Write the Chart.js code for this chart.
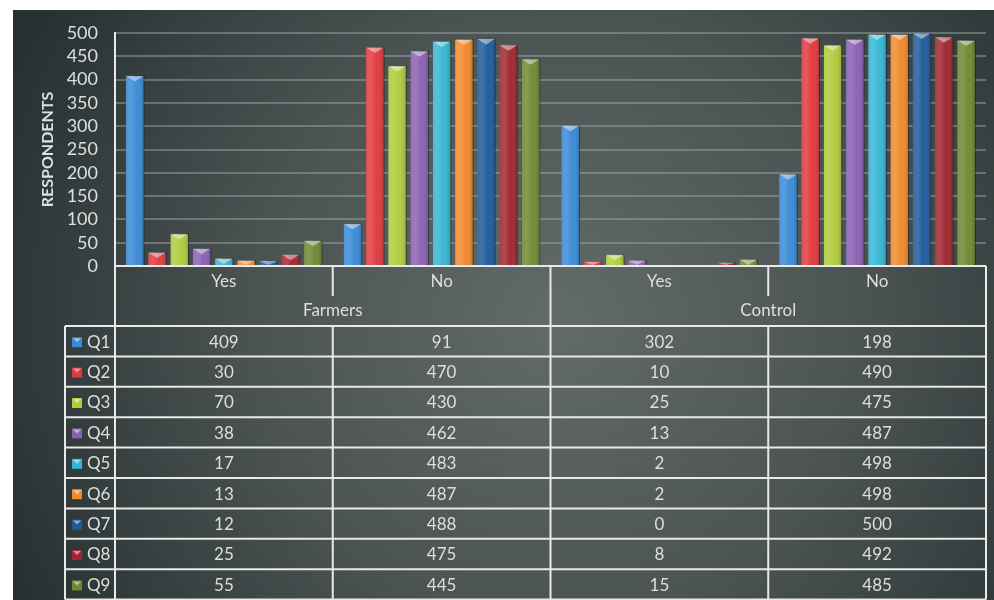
<!DOCTYPE html>
<html>
<head>
<meta charset="utf-8">
<title>Respondents by question</title>
<script src="https://cdn.jsdelivr.net/npm/chart.js@4.4.1/dist/chart.umd.min.js"></script>
<style>
  html, body { margin: 0; padding: 0; background: #fff; }
  canvas { display: block; }
</style>
</head>
<body>
<canvas id="respChart" width="994" height="600"></canvas>
<script>
// data
const categories = ["Yes", "No", "Yes", "No"];
const groups = ["Farmers", "Control"];
const questions = ["Q1", "Q2", "Q3", "Q4", "Q5", "Q6", "Q7", "Q8", "Q9"];
const farmersYes = [409, 30, 70, 38, 17, 13, 12, 25, 55];
const farmersNo = [91, 470, 430, 462, 483, 487, 488, 475, 445];
const controlYes = [302, 10, 25, 13, 2, 2, 0, 8, 15];
const controlNo = [198, 490, 475, 487, 498, 498, 500, 492, 485];
const colors = ["#3a8ad6", "#e03a3e", "#b2cb3c", "#8a60b3", "#36b6d6", "#f2892c", "#1e5b9b", "#a0272f", "#6e8934"];

const FONT = "Lato, 'Open Sans', sans-serif";
const TEXT = "#dedfdf";
const LINE = "#e8eaea";

// dark gradient panel behind everything
const backdrop = {
  id: "backdrop",
  beforeDraw(chart) {
    const ctx = chart.ctx;
    ctx.save();
    const g = ctx.createRadialGradient(560, 320, 0, 560, 320, 600);
    g.addColorStop(0, "#626a6a");
    g.addColorStop(0.5, "#4b5353");
    g.addColorStop(1, "#283131");
    ctx.fillStyle = g;
    ctx.fillRect(13, 10, 981, 590);
    ctx.restore();
  }
};

// glossy highlight + little triangle cap on every bar
const barShine = {
  id: "barShine",
  afterDatasetsDraw(chart) {
    const ctx = chart.ctx;
    ctx.save();
    chart.data.datasets.forEach((ds, di) => {
      chart.getDatasetMeta(di).data.forEach(bar => {
        const { x, y, base, width } = bar.getProps(["x", "y", "base", "width"], true);
        const h = base - y;
        if (h < 1) return;
        const l = x - width / 2, r = x + width / 2;
        const g = ctx.createLinearGradient(l, 0, r, 0);
        g.addColorStop(0, "rgba(255,255,255,0.10)");
        g.addColorStop(0.3, "rgba(255,255,255,0.16)");
        g.addColorStop(0.6, "rgba(255,255,255,0.02)");
        g.addColorStop(1, "rgba(0,0,0,0.22)");
        ctx.fillStyle = g;
        ctx.fillRect(l, y, width, h);
        const d = Math.min(6, h);
        ctx.beginPath();
        ctx.moveTo(l + 1, y + 0.5);
        ctx.lineTo(r - 1, y + 0.5);
        ctx.lineTo(x, y + d);
        ctx.closePath();
        ctx.fillStyle = "rgba(255,255,255,0.45)";
        ctx.fill();
      });
    });
    ctx.restore();
  }
};

// data table under the plot, columns follow the category axis
const dataTable = {
  id: "dataTable",
  afterDraw(chart) {
    const { ctx, chartArea: ca } = chart;
    const top = ca.bottom;
    const headH = 30, groupH = 30, rowH = 30.4;
    const rowsTop = top + headH + groupH;
    const bottom = rowsTop + rowH * questions.length;
    const legendLeft = 65;
    const colW = (ca.right - ca.left) / categories.length;
    const edges = categories.map((c, i) => ca.left + i * colW).concat(ca.right);

    ctx.save();
    ctx.strokeStyle = LINE;
    ctx.lineWidth = 2;
    const line = (x1, y1, x2, y2) => {
      ctx.beginPath(); ctx.moveTo(x1, y1); ctx.lineTo(x2, y2); ctx.stroke();
    };

    line(ca.left, top, ca.right, top);
    line(ca.left, top, ca.left, bottom);
    line(ca.right, top, ca.right, bottom);
    line(edges[2], top, edges[2], bottom);
    [edges[1], edges[3]].forEach(ex => {
      line(ex, top, ex, top + headH);
      line(ex, rowsTop, ex, bottom);
    });
    for (let r = 0; r <= questions.length; r++) {
      const yy = rowsTop + r * rowH;
      line(legendLeft, yy, ca.right, yy);
    }
    line(legendLeft, rowsTop, legendLeft, bottom);

    ctx.fillStyle = TEXT;
    ctx.font = "17px " + FONT;
    ctx.textAlign = "center";
    ctx.textBaseline = "middle";
    categories.forEach((c, i) => ctx.fillText(c, edges[i] + colW / 2, top + headH / 2 + 1));
    groups.forEach((gName, i) => ctx.fillText(gName, edges[i * 2 + 1], top + headH + groupH / 2));

    const series = [farmersYes, farmersNo, controlYes, controlNo];
    questions.forEach((q, r) => {
      const cy = rowsTop + r * rowH + rowH / 2 + 1;
      // legend key
      const kx = 72, ks = 10;
      ctx.fillStyle = colors[r];
      ctx.fillRect(kx, cy - ks / 2, ks, ks);
      ctx.beginPath();
      ctx.moveTo(kx + 1, cy - ks / 2 + 1);
      ctx.lineTo(kx + ks - 1, cy - ks / 2 + 1);
      ctx.lineTo(kx + ks / 2, cy);
      ctx.closePath();
      ctx.fillStyle = "rgba(255,255,255,0.5)";
      ctx.fill();
      ctx.fillStyle = TEXT;
      ctx.textAlign = "left";
      ctx.fillText(q, 87, cy);
      ctx.textAlign = "center";
      series.forEach((s, c) => ctx.fillText(String(s[r]), edges[c] + colW / 2, cy));
    });
    ctx.restore();
  }
};

const datasets = questions.map((q, i) => ({
  label: q,
  data: [farmersYes[i], farmersNo[i], controlYes[i], controlNo[i]],
  backgroundColor: colors[i],
  borderColor: "rgba(0,0,0,0.25)",
  borderWidth: 1,
  categoryPercentage: 0.92,
  barPercentage: 0.87
}));

new Chart(document.getElementById("respChart"), {
  type: "bar",
  data: { labels: categories, datasets: datasets },
  options: {
    responsive: false,
    animation: false,
    layout: { padding: { left: 0, top: 33, right: 8, bottom: 334 } },
    plugins: { legend: { display: false }, tooltip: { enabled: false } },
    scales: {
      x: { display: false },
      y: {
        min: 0,
        max: 500,
        ticks: { stepSize: 50, autoSkip: false, color: TEXT, padding: 17, font: { family: FONT, size: 18, lineHeight: 1 } },
        grid: { color: "rgba(165,175,175,0.45)", lineWidth: 2, drawTicks: false },
        border: { display: true, color: LINE, width: 2 },
        title: {
          display: true,
          text: "RESPONDENTS",
          color: TEXT,
          font: { family: FONT, size: 16, weight: "bold" },
          padding: { top: 38, bottom: 0 }
        },
        afterFit(scale) { scale.width = 115; }
      }
    }
  },
  plugins: [backdrop, barShine, dataTable]
});
</script>
</body>
</html>
